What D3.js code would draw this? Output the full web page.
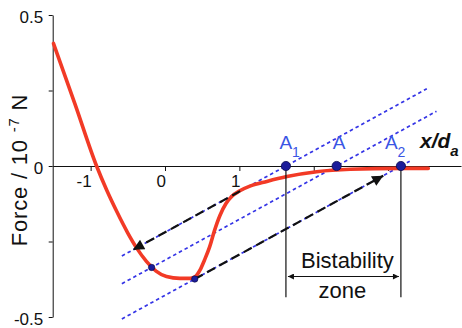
<!DOCTYPE html>
<html>
<head>
<meta charset="utf-8">
<script src="https://cdn.jsdelivr.net/npm/d3@7"></script>
<style>
  html, body { margin: 0; padding: 0; background: #fff; }
  svg { display: block; }
  text { font-family: "Liberation Sans", Arial, sans-serif; }
</style>
</head>
<body>
<svg id="chart" width="462" height="328"></svg>
<script>
// Force curve: normalised separation x/d_a versus force (10^-7 N)
const curveX = [-1.50, -1.21, -0.92, -0.78, -0.65, -0.50, -0.38, -0.25, -0.12, 0.02, 0.20, 0.34, 0.41, 0.47, 0.53, 0.60, 0.66, 0.74, 0.82, 0.90, 1.00, 1.15, 1.37, 1.64, 2.04, 2.49, 3.16, 3.54];
const curveF = [0.406, 0.205, 0.000, -0.082, -0.150, -0.222, -0.272, -0.316, -0.348, -0.366, -0.372, -0.372, -0.366, -0.345, -0.312, -0.268, -0.218, -0.163, -0.124, -0.100, -0.083, -0.066, -0.051, -0.035, -0.019, -0.011, -0.008, -0.008];

// Load lines F = k (x - x0), crossing the axis at A1, A, A2
const loadNames = ["A1", "A", "A2"];
const loadX0 = [1.626, 2.308, 3.172];
const loadSlope = 0.135;
const loadStart = [-0.58, -0.58, -0.58];
const loadEnd = [3.52, 3.65, 3.29];

// Jumps between branches: [line index, from x, to x]
const jumpLine = [0, 2];
const jumpFrom = [1.01, 0.40];
const jumpTo = [-0.43, 2.935];

// Marked intersections of load lines with the curve
const crossLine = [1, 2];
const crossX = [-0.18, 0.40];

// Axis ticks
const xTicks = [-1, 0, 1, 2, 3];
const xTickLabels = { "-1": "-1", "0": "0", "1": "1" };
const yTicks = [0.5, 0.25, 0, -0.25, -0.5];
const yTickLabels = { "0.5": "0.5", "0": "0", "-0.5": "-0.5" };

const svg = d3.select("#chart");
const x = d3.scaleLinear().domain([-1.51, 3.98]).range([52.7, 461]);
const y = d3.scaleLinear().domain([-0.5, 0.5]).range([317, 15]);
const loadF = (i, xv) => loadSlope * (xv - loadX0[i]);

const RED = "#f23a26", BLUE = "#3434e6", DOT = "#1c1c9a", LABEL_BLUE = "#3a55e4";

const defs = svg.append("defs");
defs.append("marker")
  .attr("id", "jump-head").attr("viewBox", "0 -5 10 10")
  .attr("refX", 10).attr("refY", 0)
  .attr("markerUnits", "userSpaceOnUse")
  .attr("markerWidth", 14).attr("markerHeight", 11)
  .attr("orient", "auto")
  .append("path").attr("d", "M0,-5L10,0L0,5Z").attr("fill", "#111");
defs.append("marker")
  .attr("id", "zone-head").attr("viewBox", "0 -5 10 10")
  .attr("refX", 10).attr("refY", 0)
  .attr("markerUnits", "userSpaceOnUse")
  .attr("markerWidth", 9).attr("markerHeight", 6)
  .attr("orient", "auto-start-reverse")
  .append("path").attr("d", "M0,-5L10,0L0,5Z").attr("fill", "#111");

// Axes
const xAxis = d3.axisBottom(x).tickValues(xTicks).tickSize(5).tickSizeOuter(0)
  .tickFormat(d => xTickLabels[String(d)] || "");
const gx = svg.append("g").attr("transform", `translate(0,${y(0)})`).call(xAxis);
gx.selectAll("text").attr("text-anchor", "end").attr("x", 0.5).attr("y", 9)
  .attr("font-size", 17).attr("fill", "#111");

const yAxis = d3.axisLeft(y).tickValues(yTicks).tickSize(4).tickSizeOuter(0)
  .tickFormat(d => yTickLabels[String(d)] || "");
const gy = svg.append("g").attr("transform", `translate(${x(-1.51)},0)`).call(yAxis);
gy.selectAll("text").attr("x", -9.5).attr("dy", "0.62em").attr("y", -3)
  .attr("font-size", 17).attr("fill", "#111");
svg.selectAll(".domain, .tick line").attr("stroke", "#111");

// Load lines (blue dotted)
svg.append("g").selectAll("line").data(loadX0).join("line")
  .attr("x1", (d, i) => x(loadStart[i])).attr("y1", (d, i) => y(loadF(i, loadStart[i])))
  .attr("x2", (d, i) => x(loadEnd[i])).attr("y2", (d, i) => y(loadF(i, loadEnd[i])))
  .attr("stroke", BLUE).attr("stroke-width", 1.7).attr("stroke-dasharray", "3.5,3");

// Force curve
const line = d3.line().x(d => x(d[0])).y(d => y(d[1])).curve(d3.curveMonotoneX);
svg.append("path").datum(curveX.map((v, i) => [v, curveF[i]]))
  .attr("d", line).attr("fill", "none").attr("stroke", RED)
  .attr("stroke-width", 3.6).attr("stroke-linecap", "round");

// Jump arrows (black dashed)
svg.append("g").selectAll("line").data(jumpLine).join("line")
  .attr("x1", (d, i) => x(jumpFrom[i])).attr("y1", (d, i) => y(loadF(d, jumpFrom[i])))
  .attr("x2", (d, i) => x(jumpTo[i])).attr("y2", (d, i) => y(loadF(d, jumpTo[i])))
  .attr("stroke", "#111").attr("stroke-width", 2.2).attr("stroke-dasharray", "9,5")
  .attr("marker-end", "url(#jump-head)");

// Intersection points on the curve
svg.append("g").selectAll("circle").data(crossLine).join("circle")
  .attr("cx", (d, i) => x(crossX[i])).attr("cy", (d, i) => y(loadF(d, crossX[i])))
  .attr("r", 3.2).attr("fill", DOT).attr("stroke", "#0a0a40").attr("stroke-width", 0.6);

// Bistability zone bounds
const zoneBottom = -0.435, zoneArrow = -0.366;
svg.append("g").selectAll("line").data([loadX0[0], loadX0[2]]).join("line")
  .attr("x1", d => x(d)).attr("x2", d => x(d))
  .attr("y1", y(0)).attr("y2", y(zoneBottom))
  .attr("stroke", "#111").attr("stroke-width", 1.2);
svg.append("line")
  .attr("x1", x(loadX0[0]) + 2).attr("x2", x(loadX0[2]) - 2)
  .attr("y1", y(zoneArrow)).attr("y2", y(zoneArrow))
  .attr("stroke", "#111").attr("stroke-width", 1.1)
  .attr("marker-start", "url(#zone-head)").attr("marker-end", "url(#zone-head)");
const zoneMid = (x(loadX0[0]) + x(loadX0[2])) / 2;
svg.append("text").attr("x", zoneMid + 4).attr("y", y(zoneArrow) - 8.5)
  .attr("text-anchor", "middle").attr("font-size", 22).attr("fill", "#111").text("Bistability");
svg.append("text").attr("x", zoneMid - 1).attr("y", y(zoneArrow) + 21)
  .attr("text-anchor", "middle").attr("font-size", 22).attr("fill", "#111").text("zone");

// Points A1, A, A2 on the axis
svg.append("g").selectAll("circle").data(loadX0).join("circle")
  .attr("cx", d => x(d)).attr("cy", y(0)).attr("r", 4.6)
  .attr("fill", DOT).attr("stroke", "#0a0a50").attr("stroke-width", 0.8);

const labelShift = [0, 2.5, -9.5];
const lab = svg.append("g").selectAll("text").data(loadNames).join("text")
  .attr("x", (d, i) => x(loadX0[i]) + labelShift[i]).attr("y", y(0) - 17.5)
  .attr("font-size", 19).attr("fill", LABEL_BLUE).attr("text-anchor", "start");
lab.each(function (d) {
  const t = d3.select(this);
  t.append("tspan").text("A");
  if (d.length > 1) {
    t.append("tspan").attr("font-size", 14).attr("dy", 8).text(d.slice(1));
  }
});
lab.attr("dx", -6.5);

// Axis title x/d_a
const xt = svg.append("text").attr("x", 420).attr("y", y(0) - 18)
  .attr("font-family", "'Liberation Serif', 'Times New Roman', serif")
  .attr("font-style", "italic").attr("font-weight", "bold").attr("font-size", 21).attr("fill", "#111");
xt.append("tspan").text("x/d");
xt.append("tspan").attr("font-size", 15).attr("dy", 8).text("a");

// Axis title Force / 10^-7 N
const yt = svg.append("text")
  .attr("transform", `translate(27,${170}) rotate(-90)`)
  .attr("text-anchor", "middle").attr("font-size", 22).attr("letter-spacing", 0.8).attr("fill", "#111");
yt.append("tspan").text("Force / 10 ");
yt.append("tspan").attr("font-size", 15).attr("dy", -8).text("-7");
yt.append("tspan").attr("dy", 8).text(" N");
</script>
</body>
</html>
